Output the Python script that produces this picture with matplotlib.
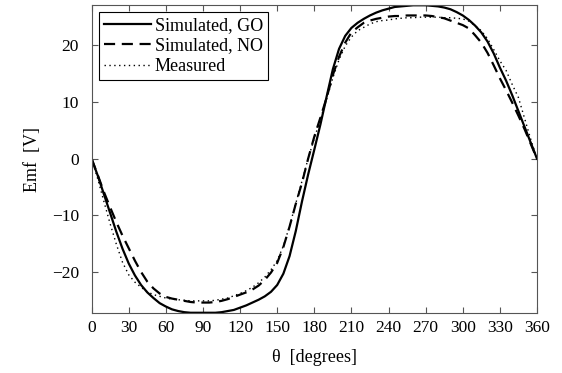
import numpy as np
import matplotlib.pyplot as plt

plt.rcParams['font.family'] = ['Liberation Serif', 'DejaVu Serif']

theta = np.arange(0, 361, 5)

# Simulated, GO (solid)
emf_go = [0, -3.0, -6.3, -9.6, -12.9, -15.9, -18.5, -20.6, -22.3, -23.6,
          -24.6, -25.5, -26.1, -26.6, -26.9, -27.1, -27.2, -27.2, -27.2, -27.2,
          -27.2, -27.1, -26.9, -26.7, -26.3, -25.9, -25.4, -24.9, -24.3, -23.5,
          -22.3, -20.3, -17.2, -12.8, -7.6, -2.8, 1.6, 6.1, 11.0, 15.8,
          19.4, 21.7, 23.1, 24.0, 24.7, 25.3, 25.8, 26.2, 26.5, 26.8,
          26.9, 27.0, 27.1, 27.1, 27.1, 27.0, 26.9, 26.7, 26.4, 25.9,
          25.3, 24.5, 23.5, 22.3, 20.7, 18.6, 16.1, 13.8, 11.2, 8.4,
          5.6, 2.8, 0]
# Simulated, NO (dashed)
emf_no = [0, -2.9, -5.9, -8.6, -11.2, -13.6, -15.8, -18.0, -20.0, -21.7,
          -22.9, -23.8, -24.4, -24.7, -24.9, -25.1, -25.3, -25.4, -25.4, -25.4,
          -25.3, -25.1, -24.8, -24.4, -24.0, -23.6, -23.1, -22.4, -21.4, -20.1,
          -18.4, -15.6, -12.0, -8.0, -4.3, 0.0, 3.9, 7.3, 10.8, 14.8,
          18.0, 20.5, 22.3, 23.2, 24.0, 24.4, 24.7, 24.9, 25.1, 25.2,
          25.2, 25.3, 25.3, 25.3, 25.3, 25.2, 25.0, 24.8, 24.4, 24.0,
          23.6, 23.0, 21.8, 20.5, 18.7, 16.5, 14.2, 12.1, 9.9, 7.6,
          5.2, 2.6, 0]
# Measured (dotted)
emf_meas = [0, -3.6, -7.6, -11.5, -15.1, -18.3, -20.5, -21.8, -22.7, -23.5,
            -24.0, -24.3, -24.6, -24.8, -24.9, -25.0, -25.1, -25.1, -25.1, -25.1,
            -25.0, -24.8, -24.6, -24.2, -23.8, -23.3, -22.7, -21.9, -20.9, -19.6,
            -18.0, -15.4, -11.9, -7.9, -4.0, 0.0, 3.6, 7.0, 10.5, 14.3,
            17.5, 19.9, 21.5, 22.6, 23.2, 23.8, 24.2, 24.4, 24.5, 24.7,
            24.8, 24.9, 24.9, 25.0, 25.0, 25.0, 25.0, 24.9, 24.9, 24.8,
            24.7, 24.3, 23.5, 22.6, 21.2, 19.3, 17.3, 15.6, 13.1, 10.8,
            7.1, 3.4, 0]

xticks = np.arange(0, 361, 30)
yticks = [-20, -10, 0, 10, 20]

fig = plt.figure(figsize=(5.62, 3.73), dpi=100)
ax = fig.add_axes([0.163, 0.160, 0.7925, 0.8274])

ax.plot(theta, emf_go, color='black', lw=1.6, ls='-', label='Simulated, GO')
ax.plot(theta, emf_no, color='black', lw=1.6, ls=(0, (5, 3)), label='Simulated, NO')
ax.plot(theta, emf_meas, color='black', lw=1.0, ls=(0, (1, 2.5)), label='Measured')

ax.set_xlim(0, 360)
ax.set_ylim(-27.3, 27.2)
ax.set_xticks(xticks)
ax.set_yticks(yticks)
ax.tick_params(direction='in', top=True, right=True, length=4, labelsize=12.5,
               color='#555555')
ax.tick_params(axis='y', pad=9)
ax.tick_params(axis='x', pad=5)
for s in ax.spines.values():
    s.set_color('#555555')
    s.set_linewidth(0.8)

ax.set_xlabel('θ  [degrees]', fontsize=13, labelpad=9)
ax.set_ylabel('Emf  [V]', fontsize=13, labelpad=8)

leg = ax.legend(loc='upper left', fontsize=13, fancybox=False, framealpha=1,
                edgecolor='black', handlelength=2.6, handletextpad=0.2,
                borderpad=0.3, labelspacing=0.18, borderaxespad=0.4)
leg.get_frame().set_linewidth(0.8)

fig.savefig('out.png', dpi=100)
